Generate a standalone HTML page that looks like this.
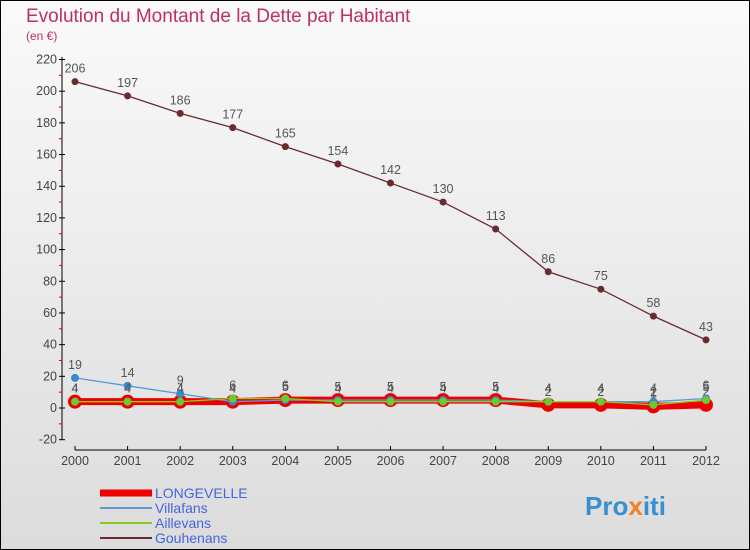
<!DOCTYPE html>
<html><head><meta charset="utf-8"><style>
body{margin:0;width:750px;height:550px;overflow:hidden;font-family:"Liberation Sans",sans-serif}
#c{position:absolute;left:0;top:0;width:748px;height:548px;border:1px solid #000;background:linear-gradient(#fafafa,#dcdcdc)}
</style></head><body>
<div id="c"></div>
<svg id="s" width="750" height="550" style="position:absolute;left:0;top:0">
<text x="26" y="22" font-size="19" fill="#c0305e">Evolution du Montant de la Dette par Habitant</text>
<text x="26" y="40" font-size="12" fill="#c0305e">(en €)</text>
<g id="ax"></g><g id="series"></g><g id="lg"></g>
<text x="585" y="515" font-size="26" font-weight="bold" fill="#3a8fd0">Pro<tspan fill="#f08020">x</tspan>iti</text>
</svg>
<script>
const years=[2000,2001,2002,2003,2004,2005,2006,2007,2008,2009,2010,2011,2012];
const longevelle=[4,4,4,4,5,5,5,5,5,2,2,1,2];
const villafans=[19,14,9,4,5,5,5,5,5,4,4,4,6];
const aillevans=[4,4,4,6,6,4,4,4,4,4,4,2,5];
const gouhenans=[206,197,186,177,165,154,142,130,113,86,75,58,43];
const yTicks=[-20,0,20,40,60,80,100,120,140,160,180,200,220];
const NS="http://www.w3.org/2000/svg";
const X=i=>75+i*(706-75)/(years.length-1);
const Y=v=>408-v*(408-59.5)/220;
function mk(p,t,a){const e=document.createElementNS(NS,t);for(const k in a)e.setAttribute(k,a[k]);p.appendChild(e);return e;}
const ax=document.getElementById('ax');
let e=mk(ax,'line',{x1:62,y1:57,x2:62,y2:440,stroke:'#000'});

e=mk(ax,'line',{x1:X(0),y1:450,x2:X(years.length-1),y2:450,stroke:'#000'});

yTicks.forEach(v=>{
 mk(ax,'line',{x1:59,y1:Y(v),x2:65,y2:Y(v),stroke:'#000'});
 if(v<220) mk(ax,'line',{x1:59,y1:Y(v+10),x2:62,y2:Y(v+10),stroke:'#e00'});
 const t=mk(ax,'text',{x:57,y:Y(v)+4,'text-anchor':'end','font-size':12.5,fill:'#444'});t.textContent=v;
 
});
years.forEach((y,i)=>{
 mk(ax,'line',{x1:X(i),y1:446,x2:X(i),y2:450,stroke:'#000'});
 const t=mk(ax,'text',{x:X(i),y:465,'text-anchor':'middle','font-size':12.5,fill:'#444'});t.textContent=y;
 
});
const sg=document.getElementById('series');
function series(name,data,color,w,dotR,dotFill,labels){
 const g=mk(sg,'g',{});
 
 mk(g,'polyline',{points:data.map((v,i)=>X(i)+','+Y(v)).join(' '),fill:'none',stroke:color,'stroke-width':w});
 data.forEach((v,i)=>{
  const c=mk(g,'circle',{cx:X(i),cy:Y(v),r:dotR,fill:dotFill});
  
  if(labels){const t=mk(g,'text',{x:X(i),y:Y(v)-9,'text-anchor':'middle','font-size':12.5,fill:'#555'});t.textContent=v;}
 });
}
series('longevelle',longevelle,'#ee0000',7,7,'#ee0000',true);
series('villafans',villafans,'#5a9ad0',1.3,4,'#3a8ad0',true);
series('aillevans',aillevans,'#88cc22',1.3,4,'#66cc33',true);
series('gouhenans',gouhenans,'#6a2a30',1.3,3.5,'#6a2a30',true);
const lg=document.getElementById('lg');
[['LONGEVELLE','#ee0000',7],['Villafans','#5a9ad0',2],['Aillevans','#88cc22',2],['Gouhenans','#6a2a30',2]].forEach((d,i)=>{
 const y=493+i*15;
 const g=mk(lg,'g',{});
 
 mk(g,'line',{x1:100,y1:y,x2:152,y2:y,stroke:d[1],'stroke-width':d[2]});
 const t=mk(g,'text',{x:155,y:y+5,'font-size':14,fill:'#4466dd'});t.textContent=d[0];
});
</script>
</body></html>
